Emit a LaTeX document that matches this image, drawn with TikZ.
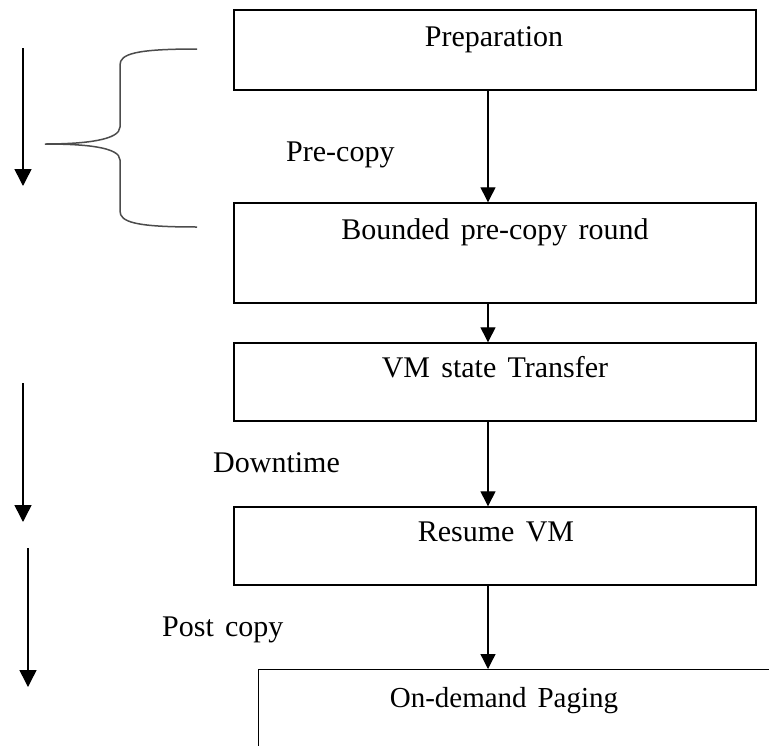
\documentclass[tikz,border=0pt]{standalone}
\usepackage{fontspec}
\setmainfont[WordSpace=1.5]{Liberation Serif}
\usetikzlibrary{arrows.meta}
\begin{document}
\begin{tikzpicture}[x=1pt,y=-1pt,
  box/.style={draw=black,line width=1.4pt,rectangle,inner sep=0pt},
  txt/.style={inner sep=0pt,font=\fontsize{30}{35}\selectfont,text=black},
  arr/.style={line width=1.3pt,-{Triangle[width=15pt,length=15pt]}},
  larr/.style={line width=1.5pt,-{Triangle[width=17pt,length=17pt]}},
  brace/.style={draw=black!70,line width=1.5pt}]
\clip (0,0) rectangle (769,745);
\fill[white] (0,0) rectangle (769,745);
% boxes
\node[box,minimum width=522pt,minimum height=80pt] (prep) at (495,50) {};
\node[box,minimum width=522pt,minimum height=100pt] (bound) at (495,253) {};
\node[box,minimum width=522pt,minimum height=78pt] (vm) at (495,382) {};
\node[box,minimum width=522pt,minimum height=78pt] (res) at (495,546) {};
\node[box,minimum width=560pt,minimum height=160pt,anchor=north west] (ond) at (258,669) {};
% box texts
\node[txt,anchor=base] (tprep) at (494,46) {Preparation};
\node[txt,anchor=base] (tbound) at (495,239) {Bounded pre-copy round};
\node[txt,anchor=base] (tvm) at (495,377) {VM state Transfer};
\node[txt,anchor=base] (tres) at (496,541) {Resume VM};
\node[txt,anchor=base,font=\fontsize{29}{34}\selectfont] (tond) at (504,707) {On-demand Paging};
% side labels
\node[txt,anchor=base west] (lpre) at (286,161) {Pre-copy};
\node[txt,anchor=base west] (ldown) at (213,472) {Downtime};
\node[txt,anchor=base west] (lpost) at (162,636) {Post copy};
% vertical connectors
\coordinate (ax) at (488,0);
\draw[arr] (prep.south -| ax) -- (bound.north -| ax);
\draw[arr] (bound.south -| ax) -- (vm.north -| ax);
\draw[arr] (vm.south -| ax) -- (res.north -| ax);
\draw[arr] (res.south -| ax) -- (ond.north -| ax);
% left arrows
\coordinate (a1s) at (23,48);  \coordinate (a1e) at (23,186);
\coordinate (a2s) at (23,383); \coordinate (a2e) at (23,522);
\coordinate (a3s) at (28,548); \coordinate (a3e) at (28,687);
\draw[larr] (a1s) -- (a1e);
\draw[larr] (a2s) -- (a2e);
\draw[larr] (a3s) -- (a3e);
% brace
\draw[brace] (197,49) .. controls (135,49) and (120,54) .. (120,65)
  -- (120,127) .. controls (120,140) and (85,144) .. (45,144)
  .. controls (85,144) and (120,147) .. (120,160)
  -- (120,211) .. controls (120,222) and (135,227) .. (197,227);
\end{tikzpicture}
\end{document}
